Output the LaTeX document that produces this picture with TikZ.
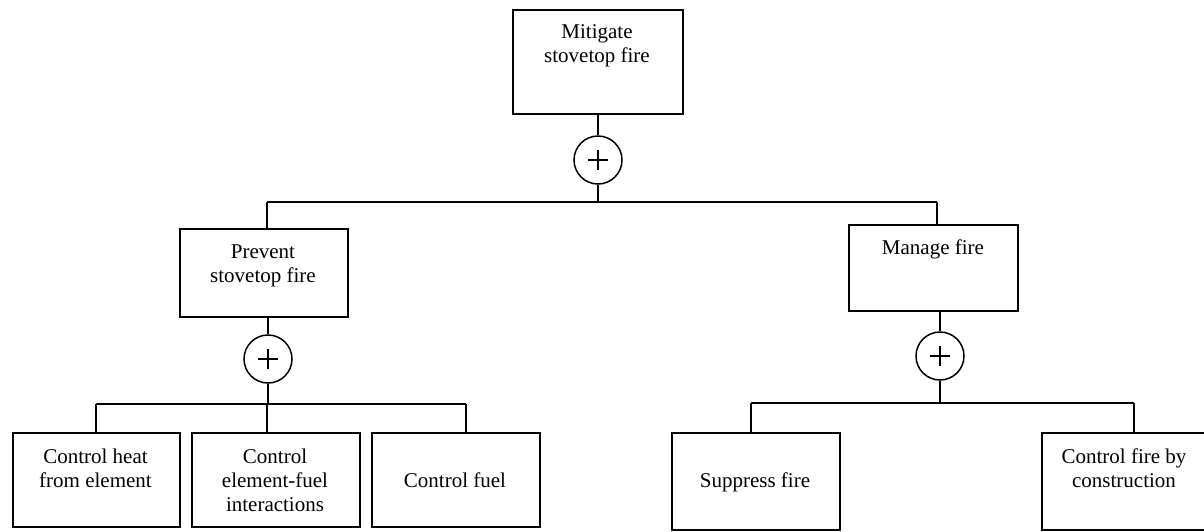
\documentclass[tikz,border=0pt]{standalone}
\usepackage{fontspec}
\setmainfont{Liberation Serif}
\begin{document}
\begin{tikzpicture}[x=1pt, y=-1pt,
  line width=1.5pt,
  box/.style={draw, rectangle, inner sep=0pt, anchor=north west},
  txt/.style={inner sep=0pt, anchor=base, font=\fontsize{21}{24}\selectfont},
  orgate/.style={draw, circle, inner sep=0pt, minimum size=48pt,
    path picture={\draw[line width=1.3pt]
      ([xshift=-10pt]path picture bounding box.center) -- ([xshift=10pt]path picture bounding box.center)
      ([yshift=-10pt]path picture bounding box.center) -- ([yshift=10pt]path picture bounding box.center);}}
]
\useasboundingbox (0,0) rectangle (1204,531);

% boxes
\node[box, minimum width=170pt, minimum height=104pt] (top) at (512,9) {};
\node[box, minimum width=168pt, minimum height=88pt] (prev) at (179,228) {};
\node[box, minimum width=169pt, minimum height=86pt] (mng) at (848,224) {};
\node[box, minimum width=167pt, minimum height=94pt] (heat) at (12,432) {};
\node[box, minimum width=168pt, minimum height=94pt] (inter) at (191,432) {};
\node[box, minimum width=168pt, minimum height=94pt] (fuel) at (371,432) {};
\node[box, minimum width=168pt, minimum height=97pt] (supp) at (671,432) {};
\node[box, minimum width=180pt, minimum height=97pt] (cons) at (1041,432) {};

% labels
\node[txt] at (597,38) {\begin{tabular}[t]{@{}c@{}}Mitigate\\stovetop fire\end{tabular}};
\node[txt] at (263,258) {\begin{tabular}[t]{@{}c@{}}Prevent\\stovetop fire\end{tabular}};
\node[txt] at (933,254) {Manage fire};
\node[txt] at (95.5,463) {\begin{tabular}[t]{@{}c@{}}Control heat\\from element\end{tabular}};
\node[txt] at (275,463) {\begin{tabular}[t]{@{}c@{}}Control\\element-fuel\\interactions\end{tabular}};
\node[txt] at (455,487) {Control fuel};
\node[txt] at (755,487) {Suppress fire};
\node[txt] at (1124,463) {\begin{tabular}[t]{@{}c@{}}Control fire by\\construction\end{tabular}};

% gates
\node[orgate] (g0) at (598,160) {};
\node[orgate] (g1) at (268,359) {};
\node[orgate] (g2) at (940,356) {};

% junction points below the gates
\coordinate (b0) at (598,202);
\coordinate (b1) at (268,404);
\coordinate (b2) at (940,403);

% top level
\draw (top.south -| g0) -- (g0.north);
\draw (g0.south) -- (b0);
\draw (267,202) coordinate (b0l) -- (937,202) coordinate (b0r);
\draw (b0l) -- (b0l |- prev.north);
\draw (b0r) -- (b0r |- mng.north);

% prevent branch
\draw (prev.south -| g1) -- (g1.north);
\draw (g1.south) -- (b1);
\draw (96,404) coordinate (b1l) -- (466,404) coordinate (b1r);
\draw (b1l) -- (b1l |- heat.north);
\draw (267,404) coordinate (b1m) -- (b1m |- inter.north);
\draw (b1r) -- (b1r |- fuel.north);

% manage branch
\draw (mng.south -| g2) -- (g2.north);
\draw (g2.south) -- (b2);
\draw (751,403) coordinate (b2l) -- (1134,403) coordinate (b2r);
\draw (b2l) -- (b2l |- supp.north);
\draw (b2r) -- (b2r |- cons.north);
\end{tikzpicture}
\end{document}
